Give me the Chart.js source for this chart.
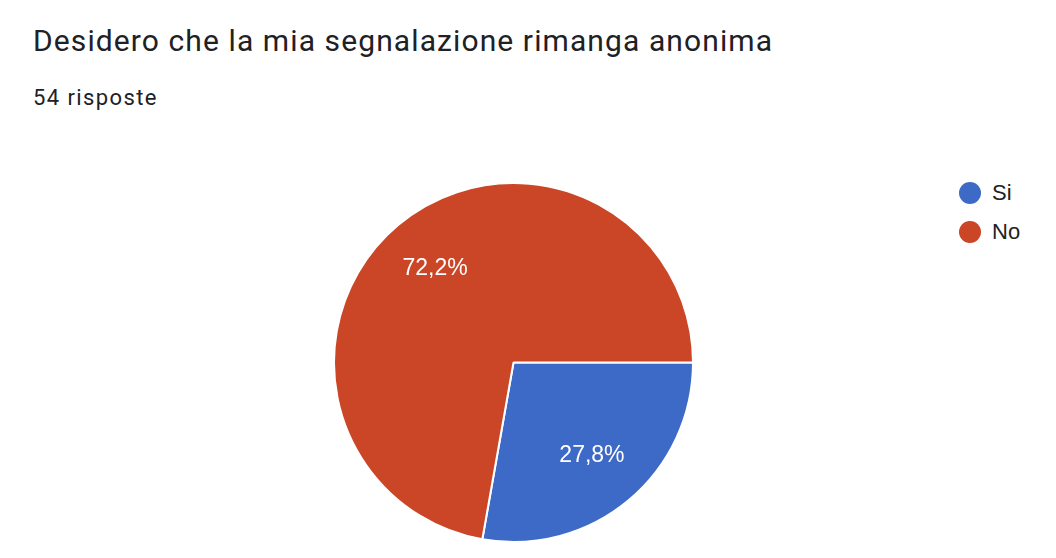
<!DOCTYPE html>
<html>
<head>
<meta charset="utf-8">
<script src="https://cdn.jsdelivr.net/npm/chart.js@4"></script>
<style>
  body { margin: 0; width: 1056px; height: 558px; background: #fff; position: relative; overflow: hidden; font-family: Roboto, Arial, sans-serif; }
  #title { position: absolute; left: 33px; top: 23px; font-size: 30px; letter-spacing: 1.1px; color: #202124; white-space: nowrap; }
  #sub { position: absolute; left: 33px; top: 85px; font-size: 22px; color: #202124; letter-spacing: 1.4px; }
  #wrap { position: absolute; left: 333px; top: 182px; width: 361px; height: 361px; }
  #legend { position: absolute; left: 959px; top: 173px; font-family: "Liberation Sans", Arial, sans-serif; font-size: 22px; color: #222; }
  .item { display: flex; align-items: center; height: 39px; }
  .dot { width: 22px; height: 22px; border-radius: 50%; margin-right: 11px; }
</style>
</head>
<body>
<div id="title">Desidero che la mia segnalazione rimanga anonima</div>
<div id="sub">54 risposte</div>
<div id="wrap"><canvas id="c"></canvas></div>
<div id="legend"></div>
<script>
const labels = ['Si', 'No'];
const counts = [15, 39];
const colors = ['#3d6ac7', '#cb4527'];

// legenda a destra
const legend = document.getElementById('legend');
labels.forEach((l, i) => {
  const row = document.createElement('div');
  row.className = 'item';
  row.innerHTML = '<span class="dot" style="background:' + colors[i] + '"></span>' + l;
  legend.appendChild(row);
});

// etichette percentuali dentro le fette
const pctLabels = {
  id: 'pctLabels',
  afterDatasetsDraw(chart) {
    const { ctx } = chart;
    const meta = chart.getDatasetMeta(0);
    const total = counts.reduce((a, b) => a + b, 0);
    ctx.save();
    ctx.fillStyle = '#fff';
    ctx.font = '23px "Liberation Sans", Arial, sans-serif';
    ctx.textAlign = 'center';
    ctx.textBaseline = 'middle';
    meta.data.forEach((arc, i) => {
      const mid = (arc.startAngle + arc.endAngle) / 2;
      const r = arc.outerRadius * 0.68;
      const txt = (counts[i] / total * 100).toFixed(1).replace('.', ',') + '%';
      ctx.fillText(txt, arc.x + Math.cos(mid) * r, arc.y + Math.sin(mid) * r);
    });
    ctx.restore();
  }
};

new Chart(document.getElementById('c'), {
  type: 'pie',
  data: {
    labels,
    datasets: [{ data: counts, backgroundColor: colors, borderColor: '#fff', borderWidth: 2 }]
  },
  options: {
    responsive: true,
    maintainAspectRatio: false,
    animation: false,
    rotation: 90,
    layout: { padding: 0 },
    plugins: { legend: { display: false }, tooltip: { enabled: false } }
  },
  plugins: [pctLabels]
});
</script>
</body>
</html>
